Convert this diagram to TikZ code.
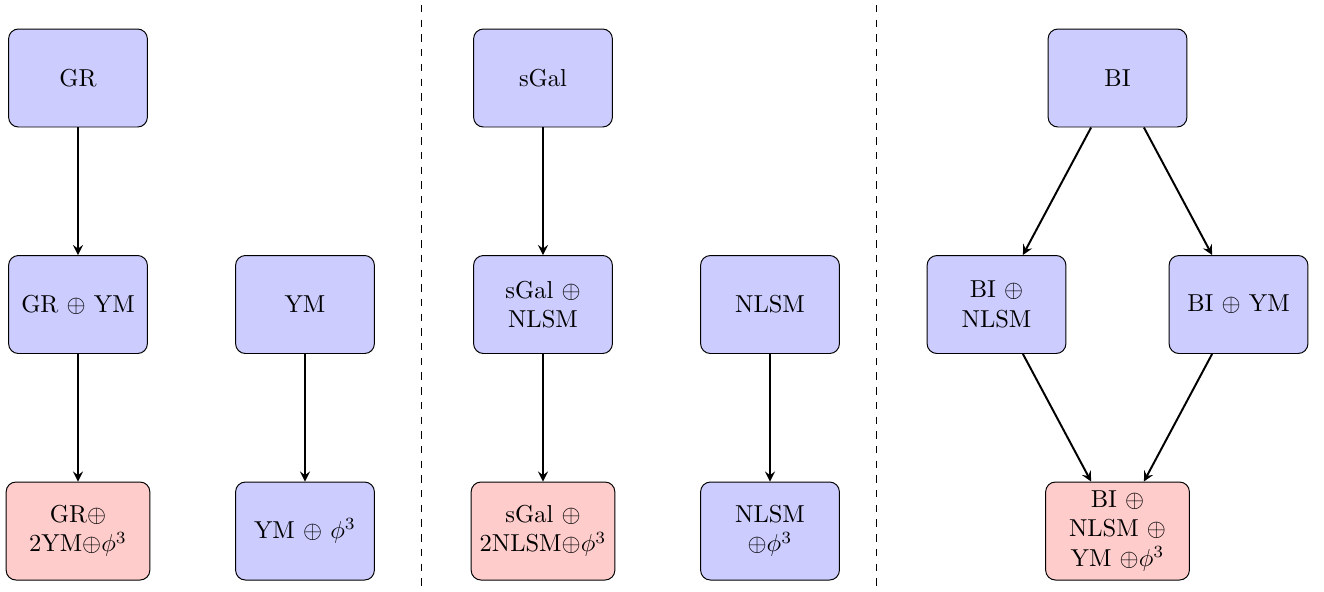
\documentclass[tikz,border=0pt]{standalone}
\usetikzlibrary{arrows}
\begin{document}
\begin{tikzpicture}[x=0.4082pt, y=-0.4082pt,
  bluebox/.style={draw, rectangle, rounded corners=4pt, fill=blue!20, text width=50pt, align=center, minimum height=40pt, inner sep=3.33pt},
  redbox/.style={draw, rectangle, rounded corners=4pt, fill=red!20, text width=52pt, align=center, minimum height=40pt, inner sep=3.33pt},
  conn/.style={->, >=stealth, thick},
  sep/.style={dashed}]
\useasboundingbox (0,0) rectangle (1324,591);
% column 1
\node[bluebox] (gr) at (78,78) {GR};
\node[bluebox] (grym) at (78,304.5) {GR $\oplus$ YM};
\node[redbox] (grred) at (78,531) {GR$\oplus$\\2YM$\oplus\phi^3$};
\node[bluebox] (ym) at (305,304.5) {YM};
\node[bluebox] (ymphi) at (305,531) {YM $\oplus$ $\phi^3$};
\draw[conn] (gr) -- (grym);
\draw[conn] (grym) -- (grred);
\draw[conn] (ym) -- (ymphi);
% separator
\coordinate (s1t) at (421,5);
\coordinate (s1b) at (421,588);
\draw[sep] (s1t) -- (s1b);
% column 2
\node[bluebox] (sgal) at (543,78) {sGal};
\node[bluebox] (sgalnlsm) at (543,304.5) {sGal $\oplus$\\NLSM};
\node[redbox] (sgalred) at (543,531) {sGal $\oplus$\\2NLSM$\oplus\phi^3$};
\node[bluebox] (nlsm) at (770,304.5) {NLSM};
\node[bluebox] (nlsmphi) at (770,531) {NLSM\\$\oplus\phi^3$};
\draw[conn] (sgal) -- (sgalnlsm);
\draw[conn] (sgalnlsm) -- (sgalred);
\draw[conn] (nlsm) -- (nlsmphi);
% separator
\coordinate (s2t) at (876,5);
\coordinate (s2b) at (876,588);
\draw[sep] (s2t) -- (s2b);
% column 3
\node[bluebox] (bi) at (1117.5,78) {BI};
\node[bluebox] (binlsm) at (996.5,304.5) {BI $\oplus$\\NLSM};
\node[bluebox] (biym) at (1238.5,304.5) {BI $\oplus$ YM};
\node[redbox] (bired) at (1117.5,531) {BI $\oplus$\\NLSM $\oplus$\\YM $\oplus\phi^3$};
\draw[conn] (bi) -- (binlsm);
\draw[conn] (bi) -- (biym);
\draw[conn] (binlsm) -- (bired);
\draw[conn] (biym) -- (bired);
\end{tikzpicture}
\end{document}
